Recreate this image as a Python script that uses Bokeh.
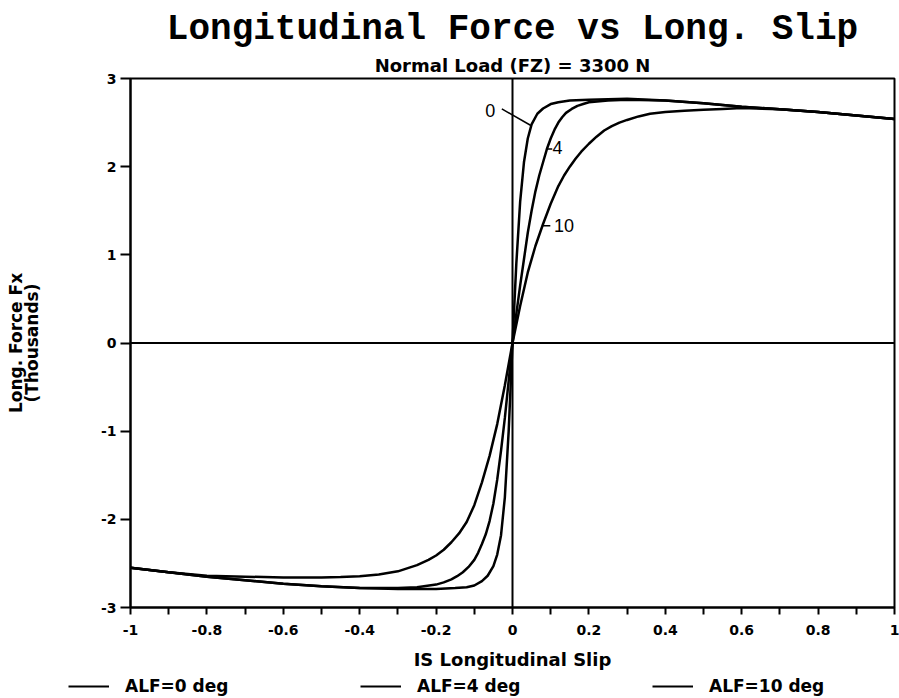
from bokeh.plotting import figure
from bokeh.models import Range1d, FixedTicker, Span, Title, Legend, LegendItem, Label
from bokeh.embed import file_html
from bokeh.resources import INLINE

# ---------------- data ----------------
slip_alf0 = [-1, -0.9, -0.8, -0.7, -0.6, -0.5, -0.4, -0.3, -0.2, -0.15, -0.12, -0.1,
             -0.08, -0.065, -0.05, -0.04, -0.03, -0.02, -0.01, 0, 0.01, 0.02, 0.03,
             0.04, 0.05, 0.065, 0.08, 0.1, 0.12, 0.15, 0.2, 0.3, 0.4, 0.5, 0.6, 0.7,
             0.8, 0.9, 1.0]
force_alf0 = [-2.55, -2.60, -2.65, -2.69, -2.73, -2.76, -2.78, -2.79, -2.79, -2.78, -2.77, -2.75,
              -2.70, -2.64, -2.53, -2.40, -2.18, -1.75, -1.00, 0.0, 0.90, 1.60, 2.05,
              2.32, 2.48, 2.60, 2.66, 2.71, 2.73, 2.75, 2.76, 2.77, 2.75, 2.72, 2.68, 2.65,
              2.62, 2.58, 2.54]

slip_alf4 = [-1, -0.9, -0.8, -0.7, -0.6, -0.5, -0.4, -0.3, -0.25, -0.2, -0.18, -0.16,
             -0.145, -0.13, -0.115, -0.1, -0.09, -0.08, -0.07, -0.06, -0.05, -0.04, -0.03,
             -0.02, -0.01, 0, 0.01, 0.02, 0.03, 0.04, 0.05, 0.06, 0.07, 0.08, 0.09, 0.1,
             0.11, 0.12, 0.13, 0.14, 0.155, 0.17, 0.185, 0.2, 0.25, 0.3, 0.4, 0.5, 0.6,
             0.7, 0.8, 0.9, 1.0]
force_alf4 = [-2.55, -2.60, -2.65, -2.69, -2.73, -2.76, -2.78, -2.78, -2.77, -2.74, -2.715, -2.68,
              -2.645, -2.60, -2.54, -2.46, -2.38, -2.28, -2.17, -2.02, -1.82, -1.55, -1.22,
              -0.85, -0.43, 0.0, 0.33, 0.65, 0.95, 1.25, 1.50, 1.72, 1.90, 2.05, 2.20, 2.32,
              2.42, 2.50, 2.56, 2.61, 2.655, 2.69, 2.71, 2.73, 2.75, 2.76, 2.75, 2.72, 2.68,
              2.65, 2.62, 2.58, 2.54]

slip_alf10 = [-1, -0.9, -0.8, -0.7, -0.6, -0.5, -0.45, -0.4, -0.35, -0.3, -0.25, -0.22,
              -0.2, -0.18, -0.16, -0.14, -0.12, -0.1, -0.08, -0.06, -0.04, -0.02, 0,
              0.02, 0.04, 0.06, 0.08, 0.1, 0.12, 0.135, 0.15, 0.165, 0.18, 0.2, 0.22,
              0.24, 0.26, 0.28, 0.3, 0.33, 0.36, 0.4, 0.45, 0.5, 0.55, 0.6, 0.7, 0.8,
              0.9, 1.0]
force_alf10 = [-2.55, -2.60, -2.64, -2.65, -2.66, -2.66, -2.655, -2.645, -2.625, -2.59, -2.52, -2.46,
               -2.41, -2.345, -2.26, -2.16, -2.03, -1.84, -1.58, -1.28, -0.92, -0.48, 0.0,
               0.42, 0.80, 1.10, 1.35, 1.58, 1.78, 1.90, 2.00, 2.09, 2.17, 2.26, 2.34,
               2.41, 2.46, 2.50, 2.53, 2.57, 2.60, 2.62, 2.635, 2.645, 2.655, 2.665, 2.65, 2.62,
               2.58, 2.54]

series_labels = ["ALF=0 deg", "ALF=4 deg", "ALF=10 deg"]
curve_tags = ["0", "4", "10"]

x_ticks = [-1, -0.8, -0.6, -0.4, -0.2, 0, 0.2, 0.4, 0.6, 0.8, 1]
x_tick_labels = ["-1", "-0.8", "-0.6", "-0.4", "-0.2", "0", "0.2", "0.4", "0.6", "0.8", "1"]
x_minor = [-0.9, -0.7, -0.5, -0.3, -0.1, 0.1, 0.3, 0.5, 0.7, 0.9]
y_ticks = [-3, -2, -1, 0, 1, 2, 3]
y_tick_labels = ["-3", "-2", "-1", "0", "1", "2", "3"]

title_text = "Longitudinal Force vs Long. Slip"
subtitle_text = "Normal Load (FZ) = 3300 N"
x_label = "IS Longitudinal Slip"
y_label = "Long. Force Fx\n(Thousands)"

W = 899
H_MAIN = 674
H_LEG = 24

# ---------------- main figure ----------------
p = figure(width=W, height=H_MAIN, x_range=Range1d(-1, 1), y_range=Range1d(-3, 3),
           output_backend="svg", toolbar_location=None, title=None,
           min_border_left=130, min_border_right=5, min_border_top=78, min_border_bottom=67)
p.background_fill_color = "white"
p.border_fill_color = "white"
p.outline_line_color = "black"
p.outline_line_width = 2
p.xgrid.visible = False
p.ygrid.visible = False

sub = Title(text=subtitle_text, align="center", text_font="DejaVu Sans",
            text_font_style="bold", text_font_size="18px", text_color="black", standoff=6)
main = Title(text=title_text, align="center", text_font="Liberation Mono",
             text_font_style="bold", text_font_size="36px", text_color="black", standoff=0)
p.add_layout(sub, "above")
p.add_layout(main, "above")

bold = "bold"
xa = p.xaxis[0]
xa.ticker = FixedTicker(ticks=x_ticks, minor_ticks=x_minor)
xa.major_label_overrides = {t: l for t, l in zip(x_ticks, x_tick_labels)}
xa.major_tick_out = 7
xa.major_tick_in = 0
xa.minor_tick_out = 7
xa.minor_tick_in = 0
xa.axis_line_width = 2
xa.major_tick_line_width = 2
xa.minor_tick_line_width = 2
xa.major_label_standoff = 10
xa.major_label_text_font = "DejaVu Sans"
xa.major_label_text_font_style = bold
xa.major_label_text_font_size = "14px"
xa.major_label_text_color = "black"
xa.axis_label = x_label
xa.axis_label_standoff = 11
xa.axis_label_text_font = "DejaVu Sans"
xa.axis_label_text_font_style = bold
xa.axis_label_text_font_size = "18px"
xa.axis_label_text_color = "black"

ya = p.yaxis[0]
ya.ticker = FixedTicker(ticks=y_ticks, minor_ticks=[])
ya.major_label_overrides = {t: l for t, l in zip(y_ticks, y_tick_labels)}
ya.major_tick_out = 10
ya.major_tick_in = 0
ya.minor_tick_out = 0
ya.minor_tick_in = 0
ya.axis_line_width = 2
ya.major_tick_line_width = 2
ya.major_label_standoff = 4
ya.major_label_text_font = "DejaVu Sans"
ya.major_label_text_font_style = bold
ya.major_label_text_font_size = "14px"
ya.major_label_text_color = "black"
ya.axis_label = y_label
ya.axis_label_standoff = 56
ya.axis_label_text_font = "DejaVu Sans"
ya.axis_label_text_font_style = bold
ya.axis_label_text_font_size = "17px"
ya.axis_label_text_line_height = 0.8
ya.axis_label_text_color = "black"

# zero lines
p.add_layout(Span(location=0, dimension="width", line_color="black", line_width=2))
p.add_layout(Span(location=0, dimension="height", line_color="black", line_width=2))

# curves
line_style = dict(line_color="black", line_width=2.5)
r0 = p.line(slip_alf0, force_alf0, **line_style)
r4 = p.line(slip_alf4, force_alf4, **line_style)
r10 = p.line(slip_alf10, force_alf10, **line_style)

# curve tags with leader lines (annotation positions)
tag_pos = [(-0.058, 2.64), (0.118, 2.22), (0.135, 1.33)]
leaders = [((-0.028, 2.655), (0.047, 2.47)), ((0.088, 2.2), (0.104, 2.2)), ((0.079, 1.33), (0.099, 1.33))]
for (tx, ty), tag in zip(tag_pos, curve_tags):
    p.add_layout(Label(x=tx, y=ty, text=tag, text_align="center", text_baseline="middle",
                       text_font="Liberation Sans", text_font_size="18px", text_color="black"))
for (a, b) in leaders:
    p.line([a[0], b[0]], [a[1], b[1]], line_color="black", line_width=1.5)

# ---------------- legend strip (separate root below the chart) ----------------
q = figure(width=W, height=H_LEG, x_range=Range1d(-1, 1), y_range=Range1d(10, 11),
           output_backend="svg", toolbar_location=None, title=None,
           x_axis_location=None, y_axis_location=None, min_border=0)
q.outline_line_color = None
q.xgrid.visible = False
q.ygrid.visible = False
q.background_fill_color = "white"
q.border_fill_color = "white"
legend_style = dict(line_color="black", line_width=1.8)
l0 = q.line(slip_alf0, force_alf0, **legend_style)
l4 = q.line(slip_alf4, force_alf4, **legend_style)
l10 = q.line(slip_alf10, force_alf10, **legend_style)

legend = Legend(items=[LegendItem(label=series_labels[0], renderers=[l0]),
                       LegendItem(label=series_labels[1], renderers=[l4]),
                       LegendItem(label=series_labels[2], renderers=[l10])],
                orientation="horizontal", location=(68, 2),
                glyph_width=41, glyph_height=20, label_standoff=16, label_width=235,
                label_height=20, spacing=0, padding=0, margin=0,
                border_line_alpha=0, background_fill_alpha=0,
                label_text_font="DejaVu Sans", label_text_font_style="bold",
                label_text_font_size="17px", label_text_color="black")
q.add_layout(legend, "center")

open("out.html", "w").write(file_html([p, q], INLINE))
